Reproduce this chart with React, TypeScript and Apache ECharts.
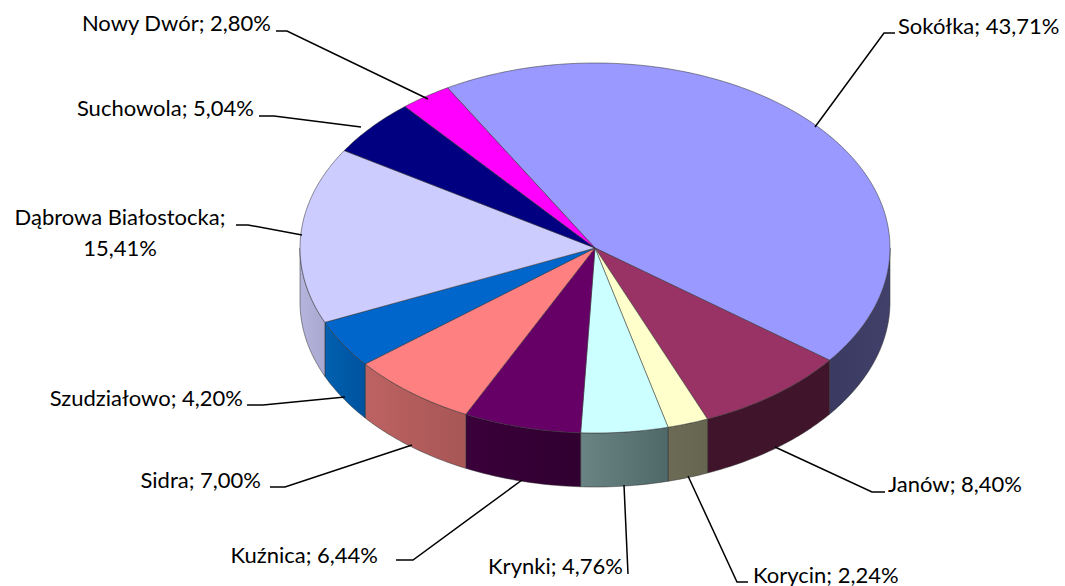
import React, { useEffect, useRef } from "react";
import * as echarts from "echarts";

const names = ["Sokółka", "Janów", "Korycin", "Krynki", "Kuźnica", "Sidra", "Szudziałowo", "Dąbrowa Białostocka", "Suchowola", "Nowy Dwór"];
const shares = [43.71, 8.4, 2.24, 4.76, 6.44, 7.0, 4.2, 15.41, 5.04, 2.8];
const topColors = ["#9999FF", "#993366", "#FFFFCC", "#CCFFFF", "#660066", "#FF8080", "#0066CC", "#CCCCFF", "#000080", "#FF00FF"];
const wallFrom = ["#3a3a62", "#40152b", "#6c6c56", "#6a8484", "#3a003a", "#bd6262", "#0060b0", "#b4b4dc", "#000040", "#800080"];
const wallTo = ["#40406a", "#40152b", "#666650", "#4f6868", "#300030", "#a85656", "#00529e", "#a8a8d0", "#000040", "#800080"];

// Label placement: text anchor and the leader's rim, knee and tail points.
const labelLayout: { x: number; y: number; align: string; line: number[][] }[] = [
  { x: 898, y: 25, align: "left", line: [[815, 127], [884, 33], [895, 33]] },
  { x: 888, y: 483, align: "left", line: [[775, 447], [872, 492], [885, 492]] },
  { x: 753, y: 574, align: "left", line: [[688, 476], [737, 582], [748, 582]] },
  { x: 623, y: 565, align: "right", line: [[624, 485], [628, 574]] },
  { x: 378, y: 554, align: "right", line: [[522, 480], [413, 560], [396, 560]] },
  { x: 261, y: 479, align: "right", line: [[412, 445], [285, 487], [270, 487]] },
  { x: 243, y: 397, align: "right", line: [[345, 397], [263, 405], [247, 405]] },
  { x: 120, y: 232, align: "center", line: [[302, 235], [248, 225], [236, 225]] },
  { x: 254, y: 107, align: "right", line: [[361, 127], [274, 116], [259, 116]] },
  { x: 271, y: 22, align: "right", line: [[428, 99], [287, 31], [276, 31]] },
];

const CX = 595;
const CY = 248;
const RX = 295;
const RY = 185;
const DEPTH = 54;
const START = -30;

const rim = (deg: number, drop = 0) => {
  const t = (deg * Math.PI) / 180;
  return [CX + RX * Math.sin(t), CY - RY * Math.cos(t) + drop];
};

const arc = (a: number, b: number, drop = 0) => {
  const out: number[][] = [];
  const n = Math.max(2, Math.ceil(Math.abs(b - a)));
  for (let i = 0; i <= n; i++) out.push(rim(a + ((b - a) * i) / n, drop));
  return out;
};

const fmt = (v: number) => v.toFixed(2).replace(".", ",") + "%";
const EDGE = "rgba(50,50,50,0.75)";

export default function App() {
  const ref = useRef<HTMLDivElement>(null);
  useEffect(() => {
    document.body.style.margin = "0";
    const chart = echarts.init(ref.current!, undefined, { renderer: "svg" });
    const total = shares.reduce((s, v) => s + v, 0);
    chart.setOption({
      animation: false,
      backgroundColor: "#ffffff",
      series: [
        {
          type: "custom",
          coordinateSystem: "none",
          silent: true,
          clip: false,
          data: shares,
          renderItem: (params: any, api: any) => {
            const i = params.dataIndex;
            const before = shares.slice(0, i).reduce((s, v) => s + v, 0);
            const a = START + (before / total) * 360;
            const b = a + (api.value(0) / total) * 360;
            const children: any[] = [];
            const wa = Math.max(a, 90);
            const wb = Math.min(b, 270);
            if (wb > wa) {
              const top = arc(wa, wb);
              const bottom = arc(wb, wa, DEPTH);
              children.push({
                type: "polygon",
                shape: { points: [...top, ...bottom] },
                style: {
                  fill: new echarts.graphic.LinearGradient(0, 0, 1, 0, [
                    { offset: 0, color: wallFrom[i] },
                    { offset: 1, color: wallTo[i] },
                  ]),
                  stroke: EDGE,
                  lineWidth: 0.7,
                },
              });
            }
            children.push({
              type: "polygon",
              shape: { points: [[CX, CY], ...arc(a, b)] },
              style: { fill: topColors[i], stroke: EDGE, lineWidth: 0.7 },
            });
            const lay = labelLayout[i];
            children.push({
              type: "polyline",
              shape: { points: lay.line },
              style: { fill: "none", stroke: "#000000", lineWidth: 1.5 },
            });
            const wrapped = names[i].length > 15;
            children.push({
              type: "text",
              style: {
                text: names[i] + (wrapped ? ";\n" : "; ") + fmt(api.value(0)),
                x: lay.x,
                y: lay.y,
                align: lay.align,
                verticalAlign: "middle",
                font: '22px Lato, "Noto Sans", sans-serif',
                lineHeight: wrapped ? 31 : 22,
                fill: "#000000",
              },
            });
            return { type: "group", children };
          },
        },
      ],
    });
    return () => chart.dispose();
  }, []);
  return <div ref={ref} style={{ width: 1065, height: 586 }} />;
}
